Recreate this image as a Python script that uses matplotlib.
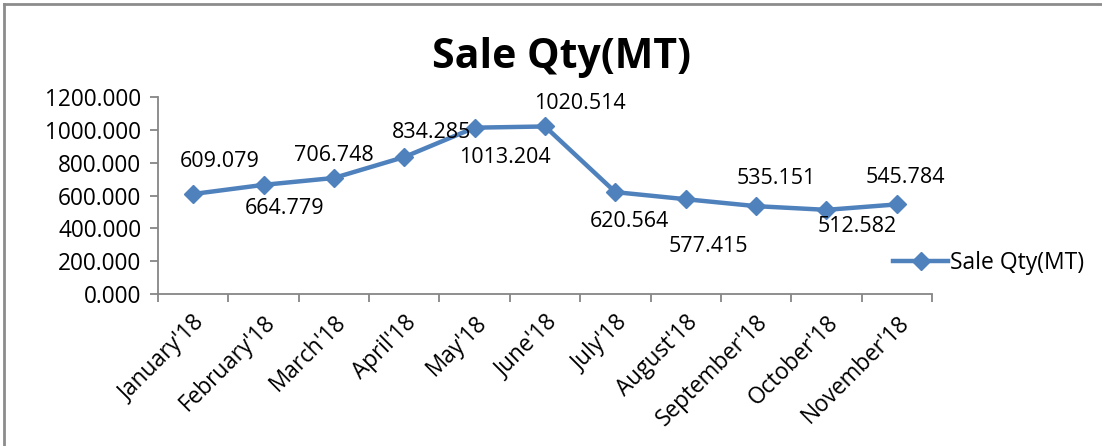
import matplotlib.pyplot as plt
from matplotlib.lines import Line2D
import numpy as np

months = ["January'18", "February'18", "March'18", "April'18", "May'18", "June'18",
          "July'18", "August'18", "September'18", "October'18", "November'18"]
sale_qty = [609.079, 664.779, 706.748, 834.285, 1013.204, 1020.514,
            620.564, 577.415, 535.151, 512.582, 545.784]

# label offsets in pixels (dx, dy) relative to each point
label_offsets = [(27, 33), (21, -24), (0, 22), (27, 25), (30, -30), (35, 23),
                 (14, -29), (23, -47), (20, 28), (31, -17), (9, 27)]

plt.rcParams['font.family'] = ['Open Sans', 'DejaVu Sans']

fig = plt.figure(figsize=(11.02, 4.46), dpi=100)
ax = fig.add_axes([158 / 1102, 1 - 294 / 446, (932 - 158) / 1102, (294 - 97) / 446])

blue = '#4F81BD'
x = np.arange(len(months))
ax.plot(x, sale_qty, color=blue, lw=3.2, marker='D', ms=9, mfc=blue, mec=blue,
        label='Sale Qty(MT)', solid_capstyle='round', solid_joinstyle='round')

for i, v in enumerate(sale_qty):
    dx, dy = label_offsets[i]
    ax.annotate(f"{v:.3f}", (i, v), xytext=(dx * 0.72, dy * 0.72), textcoords='offset points',
                ha='center', va='center', fontsize=15.5, color='black')

ax.set_xlim(-0.5, len(months) - 0.5)
ax.set_ylim(0, 1200)
ax.set_yticks(np.arange(0, 1201, 200))
ax.set_yticklabels([f"{t:.3f}" for t in np.arange(0, 1201, 200)], fontsize=16.3)
ax.set_xticks(x)
ax.set_xticklabels(months, rotation=45, ha='right', rotation_mode='anchor', fontsize=16.3)
ax.set_xticks(np.arange(-0.5, len(months)), minor=True)
ax.tick_params(axis='x', which='major', length=0, pad=12)
ax.tick_params(axis='x', which='minor', length=6, color='#868686', width=1.3)
ax.tick_params(axis='y', length=6, color='#868686', width=1.3, pad=6)
for s in ['top', 'right']:
    ax.spines[s].set_visible(False)
for s in ['left', 'bottom']:
    ax.spines[s].set_color('#868686')
    ax.spines[s].set_linewidth(1.3)

fig.text(561 / 1102, 1 - 57 / 446, 'Sale Qty(MT)', ha='center', va='center',
         fontsize=29.5, fontweight='bold')

leg = fig.legend(handles=[Line2D([0], [0], color=blue, lw=3.2, marker='D', ms=9)],
                 labels=['Sale Qty(MT)'], loc='center left',
                 bbox_to_anchor=(884 / 1102, 1 - 263 / 446), frameon=False,
                 fontsize=16.5, handlelength=2.4, handletextpad=0.1, borderaxespad=0)

# chart border (only top and left visible in the crop)
fig.add_artist(Line2D([4 / 1102, 4 / 1102], [0, 1 - 4 / 446], color='#8c8c8c', lw=2))
fig.add_artist(Line2D([4 / 1102, 1], [1 - 4 / 446, 1 - 4 / 446], color='#8c8c8c', lw=2))

fig.savefig('out.png', dpi=100)
